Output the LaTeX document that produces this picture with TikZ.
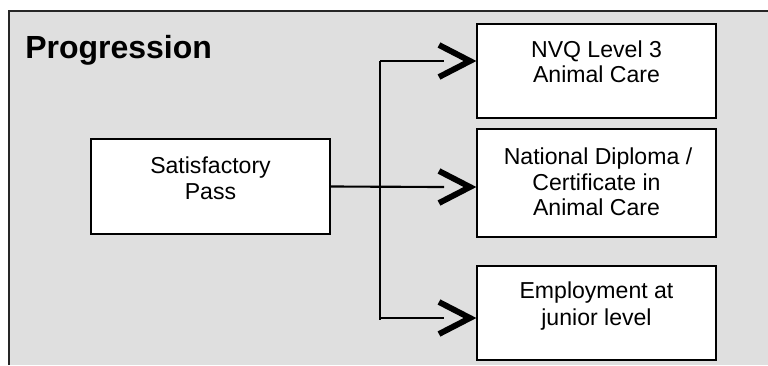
\documentclass[tikz,border=0pt]{standalone}
\usepackage{fontspec}
\setmainfont{Liberation Sans}
\definecolor{bgray}{RGB}{223,223,223}
\begin{document}
\begin{tikzpicture}[x=0.75pt,y=-0.75pt,
  box/.style={draw=black, fill=white, line width=2.2pt, inner sep=0pt, outer sep=0pt,
              minimum width=179.25pt},
  txt/.style={anchor=base, inner sep=0pt, font=\fontsize{17.3pt}{19pt}\selectfont},
  conn/.style={draw=black, line width=1.6pt},
  chev/.style={draw=black, line width=4.4pt, line join=miter}]
\useasboundingbox (0,0) rectangle (768,365);
% background panel
\fill[white] (0,0) rectangle (768,365);
\fill[bgray] (9,11) rectangle (768,365);
\draw[line width=1.6pt, draw=black!85] (9,365) -- (9,11) -- (768,11);
% title
\node[anchor=base west, inner sep=0pt, font=\fontsize{24pt}{28pt}\selectfont\bfseries] (title) at (25,58) {Progression};
% boxes
\node[box, minimum height=71.25pt] (sat) at (210.5,186.5) {};
\node[box, minimum height=70.5pt] (nvq) at (596.5,71) {};
\node[box, minimum height=81pt] (nd) at (596.5,183) {};
\node[box, minimum height=70.5pt] (emp) at (596.5,313) {};
% texts
\node[txt] (sat1) at (210.5,173) {Satisfactory};
\node[txt] (sat2) at (210.5,199) {Pass};
\node[txt] (nvq1) at (596.5,57) {NVQ Level 3};
\node[txt] (nvq2) at (596.5,82.5) {Animal Care};
\node[txt] (nd1) at (598,164.3) {National Diploma /};
\node[txt] (nd2) at (596.5,190) {Certificate in};
\node[txt] (nd3) at (596.5,215.7) {Animal Care};
\node[txt] (emp1) at (596.5,298) {Employment at};
\node[txt] (emp2) at (596.5,325) {junior level};
% connectors
\coordinate (jt) at (380,61);
\coordinate (jb) at (380,318);
\coordinate (jbe) at (380,320);
\coordinate (a1) at ([shift={(0,-10)}]nvq.west);
\coordinate (a2) at ([shift={(0,4)}]nd.west);
\coordinate (a3) at ([shift={(0,5)}]emp.west);
\draw[conn] (jt) -- (jbe);
\draw[conn] (jt) -- ([shift={(-33,0)}]a1);
\draw[conn] (sat.east) -- ([shift={(-33,0)}]a2);
\draw[conn] (jb) -- ([shift={(-33,0)}]a3);
\foreach \a in {a1,a2,a3}{
  \draw[chev] ([shift={(-38,-16)}]\a) -- ([shift={(-7,0)}]\a) -- ([shift={(-38,16)}]\a);
}
\end{tikzpicture}
\end{document}
